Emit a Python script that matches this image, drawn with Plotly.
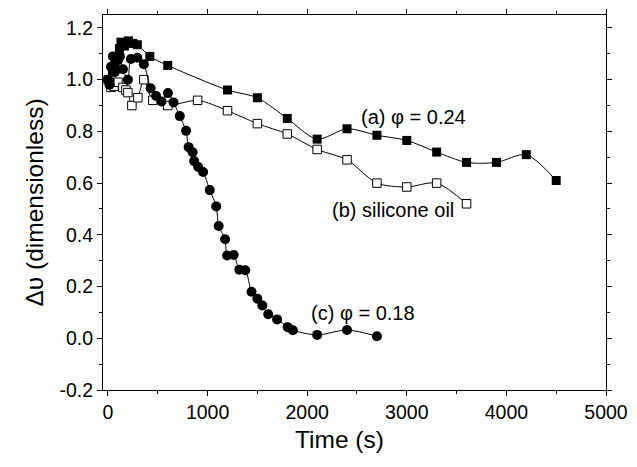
import plotly.graph_objects as go

# (a) phi = 0.24  (filled squares)
t_a = [0, 20, 45, 70, 95, 115, 130, 165, 205, 250, 295, 420, 600,
       1200, 1500, 1800, 2100, 2400, 2700, 3000, 3300, 3600, 3900, 4200, 4500]
v_a = [1.00, 0.99, 1.03, 1.06, 1.09, 1.12, 1.145, 1.13, 1.15, 1.14, 1.135, 1.09, 1.055,
       0.96, 0.93, 0.85, 0.77, 0.81, 0.785, 0.765, 0.72, 0.68, 0.68, 0.71, 0.61]

# (b) silicone oil (open squares)
t_b = [30, 60, 100, 150, 180, 200, 240, 300, 360, 450, 600,
       900, 1200, 1500, 1800, 2100, 2400, 2700, 3000, 3300, 3600]
v_b = [0.97, 0.975, 0.99, 0.97, 0.96, 0.95, 0.90, 0.93, 1.00, 0.92, 0.90,
       0.92, 0.88, 0.83, 0.79, 0.73, 0.69, 0.60, 0.585, 0.60, 0.52]

# (c) phi = 0.18 (filled circles)
t_c = [0, 15, 30, 50, 70, 100, 120, 150, 200, 230, 295, 360,
       428, 483, 537, 602, 658, 721, 784, 810, 850, 865, 906, 955,
       1022, 1087, 1111, 1176, 1196, 1262, 1319, 1378, 1441, 1500,
       1550, 1609, 1698, 1804, 1856, 2100, 2400, 2700]
v_c = [1.00, 0.98, 1.05, 1.09, 1.03, 1.075, 1.09, 1.04, 1.00, 1.08, 1.085, 1.06,
       0.967, 0.937, 0.916, 0.948, 0.912, 0.859, 0.802, 0.739, 0.719, 0.685, 0.662, 0.643,
       0.573, 0.510, 0.434, 0.383, 0.320, 0.322, 0.265, 0.263, 0.180, 0.153,
       0.127, 0.093, 0.073, 0.043, 0.031, 0.013, 0.032, 0.008]

x_ticks = [0, 1000, 2000, 3000, 4000, 5000]
y_ticks = [-0.2, 0.0, 0.2, 0.4, 0.6, 0.8, 1.0, 1.2]
y_tick_text = ["-0.2", "0.0", "0.2", "0.4", "0.6", "0.8", "1.0", "1.2"]

labels = [
    (2520, 0.854, "(a) \u03c6 = 0.24"),
    (2233, 0.496, "(b) silicone oil"),
    (2015, 0.097, "(c) \u03c6 = 0.18"),
]

FONT = "Liberation Sans, Arial, Helvetica, sans-serif"

fig = go.Figure()
line_style = dict(color="black", width=1, shape="spline", smoothing=0.8)

fig.add_trace(go.Scatter(x=t_b, y=v_b, mode="lines+markers", line=line_style,
                         marker=dict(symbol="square", size=8.5, color="white",
                                     line=dict(color="black", width=1))))
fig.add_trace(go.Scatter(x=t_a, y=v_a, mode="lines+markers", line=line_style,
                         marker=dict(symbol="square", size=9, color="black",
                                     line=dict(color="black", width=0))))
fig.add_trace(go.Scatter(x=t_c, y=v_c, mode="lines+markers", line=line_style,
                         marker=dict(symbol="circle", size=10, color="black",
                                     line=dict(color="black", width=0))))

for x, y, txt in labels:
    fig.add_annotation(x=x, y=y, text=txt, showarrow=False, xanchor="left",
                       yanchor="middle", font=dict(family=FONT, size=20, color="black"))

# x-axis title (slightly left of the plot centre, as in the original)
fig.add_annotation(xref="paper", yref="paper", x=0.47, y=-0.131, text="Time (s)",
                   showarrow=False, xanchor="center", yanchor="middle",
                   font=dict(family=FONT, size=24.5, color="black"))

axis_common = dict(showline=True, linecolor="black", linewidth=1, mirror="ticks",
                   ticks="outside", ticklen=5, tickwidth=1, tickcolor="black",
                   showgrid=False, zeroline=False,
                   tickfont=dict(family=FONT, size=19.5, color="black"))

fig.update_xaxes(range=[-50, 5000], tickvals=x_ticks,
                 minor=dict(dtick=500, ticklen=3, tickcolor="black", ticks="outside"),
                 **axis_common)
fig.update_yaxes(range=[-0.2, 1.25], tickvals=y_ticks, ticktext=y_tick_text,
                 minor=dict(dtick=0.1, tick0=0, ticklen=3, tickcolor="black", ticks="outside"),
                 title=dict(text="\u0394\u03c5 (dimensionless)",
                            font=dict(family=FONT, size=24.5, color="black"), standoff=8),
                 **axis_common)

fig.update_layout(width=637, height=467, showlegend=False,
                  paper_bgcolor="white", plot_bgcolor="white",
                  margin=dict(l=103, r=24, t=9, b=77))

fig.write_html("out.html")
